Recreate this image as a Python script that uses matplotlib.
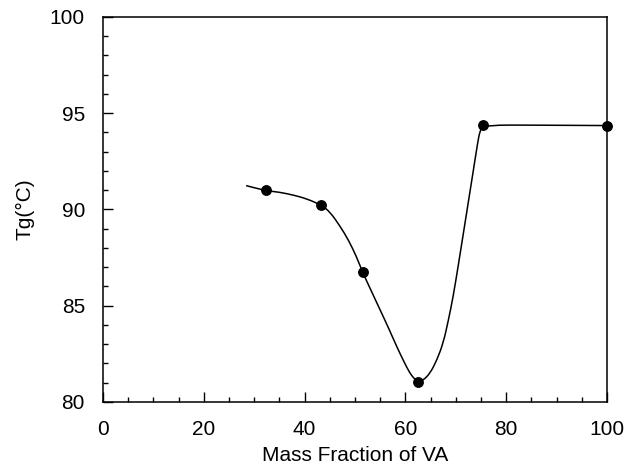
import numpy as np
import matplotlib
matplotlib.use("Agg")
import matplotlib.pyplot as plt
from matplotlib.ticker import MultipleLocator
from matplotlib.path import Path
from matplotlib.patches import PathPatch

# measured glass transition temperatures
va_frac = [32.3, 43.3, 51.5, 62.6, 75.5, 100.0]
tg = [91.0, 90.23, 86.75, 81.05, 94.39, 94.36]

# trend curve drawn through the points
curve_x = [28.4, 32.3, 35.0, 37.8, 40.5, 43.3, 45.0, 47.0, 48.7, 50.3, 51.5,
           53.0, 55.0, 56.7, 58.3, 59.7, 60.9, 61.8, 62.6, 63.5, 64.9, 66.2,
           67.5, 68.5, 69.5, 70.5, 71.5, 72.5, 73.5, 74.3, 74.8, 75.5,
           87.0, 100.0]
curve_y = [91.24, 90.98, 90.9, 90.75, 90.55, 90.23, 89.89, 89.15, 88.42, 87.55,
           86.75, 85.9, 84.78, 83.82, 82.87, 82.1, 81.49, 81.2, 81.05, 81.12,
           81.49, 82.15, 83.05, 84.2, 85.5, 87.1, 88.75, 90.4, 92.05,
           93.4, 94.1, 94.39, 94.38, 94.36]

plt.rcParams['font.family'] = ['Liberation Sans', 'DejaVu Sans']

fig = plt.figure(figsize=(6.26, 4.67), dpi=100)
ax = fig.add_axes([0.1645, 0.1392, 0.8051, 0.8244])

# smooth the traced line with quadratic segments between midpoints
pts = np.column_stack([curve_x, curve_y])
mids = (pts[:-1] + pts[1:]) / 2
verts = [pts[0], mids[0]]
codes = [Path.MOVETO, Path.LINETO]
for i in range(1, len(pts) - 1):
    verts += [pts[i], mids[i]]
    codes += [Path.CURVE3, Path.CURVE3]
verts.append(pts[-1])
codes.append(Path.LINETO)
ax.add_patch(PathPatch(Path(verts, codes), facecolor='none', edgecolor='black',
                       lw=1.1, transform=ax.transData, zorder=2))

ax.plot(va_frac, tg, 'o', color='black', ms=6.8, zorder=3, clip_on=False)

ax.set_xlim(0, 100)
ax.set_ylim(80, 100)
ax.xaxis.set_major_locator(MultipleLocator(20))
ax.xaxis.set_minor_locator(MultipleLocator(5))
ax.yaxis.set_major_locator(MultipleLocator(5))
ax.yaxis.set_minor_locator(MultipleLocator(1))

ax.tick_params(which='both', direction='in', top=False, right=False,
               labelsize=15, width=1.0)
ax.tick_params(which='major', length=7, pad=13)
ax.tick_params(which='minor', length=3.5)
for s in ax.spines.values():
    s.set_linewidth(1.1)

ax.set_xlabel('Mass Fraction of VA', fontsize=15, labelpad=5)
ax.set_ylabel('Tg(°C)', fontsize=15, labelpad=11)

fig.savefig('out.png', dpi=100)
